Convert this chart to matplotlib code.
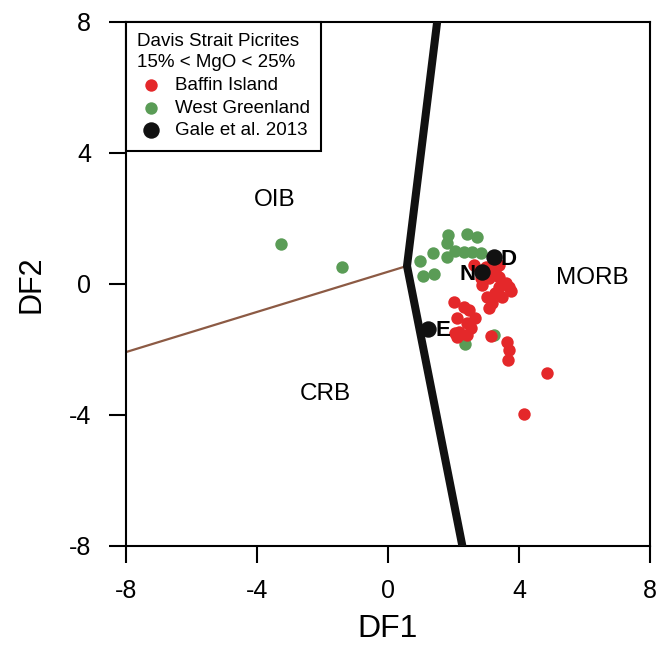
import matplotlib
matplotlib.use("Agg")
import matplotlib.pyplot as plt

plt.rcParams['font.family'] = ['Liberation Sans', 'DejaVu Sans']
plt.rcParams['axes.unicode_minus'] = False

# field boundaries
bound_x = [1.5, 0.58, 2.27]
bound_y = [8.0, 0.55, -8.0]
brown_x = [-8.0, 0.58]
brown_y = [-2.08, 0.55]

# West Greenland
wg_x = [-3.26, -1.40, 1.84, 2.42, 2.72, 1.79, 1.38, 0.97, 1.81, 2.06, 2.32, 2.57, 2.83, 1.07, 1.40, 3.23, 2.35]
wg_y = [1.22, 0.52, 1.50, 1.53, 1.43, 1.24, 0.96, 0.70, 0.83, 1.02, 0.99, 0.99, 0.94, 0.24, 0.31, -1.56, -1.83]

# Baffin Island
bi_x = [2.62, 2.98, 3.28, 3.38, 3.08, 3.38, 3.59, 3.74, 3.28, 3.03, 3.18, 3.08, 3.48, 3.69, 2.88, 3.38, 2.83,
        2.01, 2.32, 2.47, 2.11, 2.67, 2.42, 2.16, 2.42, 2.06, 2.52, 3.13,
        3.64, 3.69, 3.67, 4.86, 4.15, 2.11]
bi_y = [0.58, 0.53, 0.43, 0.58, 0.17, 0.22, 0.02, -0.23, -0.28, -0.39, -0.59, -0.74, -0.39, -0.08, -0.03, -0.08, 0.17,
        -0.54, -0.69, -0.79, -1.05, -1.05, -1.20, -1.46, -1.56, -1.51, -1.35, -1.59,
        -1.76, -2.02, -2.32, -2.71, -3.97, -1.61]

# Gale et al. 2013
gale_x = [3.23, 2.88, 1.23]
gale_y = [0.81, 0.35, -1.38]
gale_lab = ["D", "N", "E"]

fig = plt.figure(figsize=(6.6, 6.53), dpi=100)
ax = fig.add_axes([0.1909, 0.1639, 0.794, 0.8025])

ax.plot(brown_x, brown_y, color='#8c5a44', lw=1.6, zorder=2)
ax.plot(bound_x, bound_y, color='#111111', lw=5.8, zorder=3, solid_joinstyle='miter')

ax.scatter(wg_x, wg_y, s=80, color='#5a9c56', lw=0, zorder=4, label='West Greenland')
ax.scatter(bi_x, bi_y, s=80, color='#e4282a', lw=0, zorder=5, label='Baffin Island')
ax.scatter(gale_x, gale_y, s=140, color='#111111', lw=0, zorder=6, label='Gale et al. 2013')

ax.text(gale_x[0] + 0.2, gale_y[0] - 0.05, gale_lab[0], fontsize=16, fontweight='bold', va='center', ha='left', zorder=7)
ax.text(gale_x[1] - 0.22, gale_y[1] - 0.05, gale_lab[1], fontsize=16, fontweight='bold', va='center', ha='right', zorder=7)
ax.text(gale_x[2] + 0.22, gale_y[2] - 0.05, gale_lab[2], fontsize=16, fontweight='bold', va='center', ha='left', zorder=7)

ax.text(-3.45, 2.55, "OIB", fontsize=17.5, ha='center', va='center')
ax.text(6.25, 0.18, "MORB", fontsize=17.5, ha='center', va='center')
ax.text(-1.9, -3.35, "CRB", fontsize=17.5, ha='center', va='center')

ax.set_xlim(-8, 8)
ax.set_ylim(-8, 8)
ax.set_xticks([-8, -4, 0, 4, 8])
ax.set_yticks([-8, -4, 0, 4, 8])
ax.tick_params(direction='out', length=12, width=1.5, labelsize=18)
ax.tick_params(axis='y', pad=13)
ax.tick_params(axis='x', pad=12)
for sp in ax.spines.values():
    sp.set_linewidth(1.5)
ax.set_xlabel("DF1", fontsize=23, labelpad=8)
ax.set_ylabel("DF2", fontsize=22, labelpad=16)

h, l = ax.get_legend_handles_labels()
order = [1, 0, 2]
leg = ax.legend([h[i] for i in order], [l[i] for i in order],
                title="Davis Strait Picrites\n15% < MgO < 25%",
                loc='upper left', borderaxespad=0, fontsize=13.5, title_fontsize=13.5,
                frameon=True, fancybox=False, edgecolor='black', framealpha=1,
                handletextpad=0.5, labelspacing=0.3, handlelength=1.5, borderpad=0.6,
                alignment='left')
leg.get_title().set_linespacing(1.3)
leg.get_frame().set_linewidth(1.5)

fig.savefig("out.png", dpi=100)
